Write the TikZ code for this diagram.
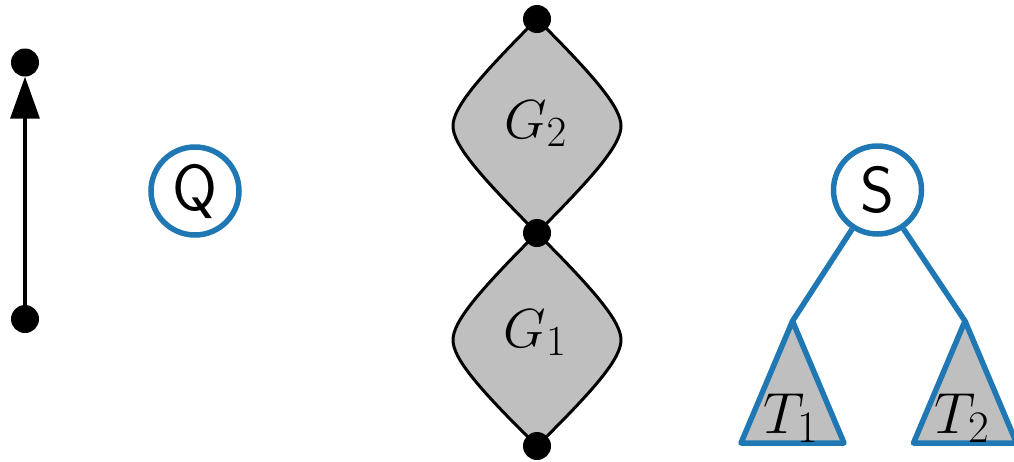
\RequirePackage{fix-cm}
\documentclass[tikz,border=0pt]{standalone}
\usetikzlibrary{arrows.meta}
\DeclareMathSizes{55}{55}{43}{31}
\DeclareMathSizes{58}{58}{45}{32}
\definecolor{tabblue}{RGB}{31,119,180}
\definecolor{leafgray}{RGB}{191,191,191}
\begin{document}
\begin{tikzpicture}[x=1pt,y=-1pt,
  dot/.style={circle,fill=black,inner sep=0pt,minimum size=28pt},
  bluecirc/.style={circle,draw=tabblue,line width=5.5pt,inner sep=0pt,minimum size=88pt,font=\fontsize{65}{70}\selectfont\sffamily},
  treeedge/.style={draw=tabblue,line width=5.5pt},
  leaf/.style={draw=black,fill=leafgray,line width=3pt,line join=round},
  tri/.style={draw=tabblue,fill=leafgray,line width=5.5pt,line join=round},
  glabel/.style={anchor=base,inner sep=0pt,font=\fontsize{55}{60}\selectfont},
  tlabel/.style={anchor=base,inner sep=0pt,font=\fontsize{58}{60}\selectfont},
  arr/.style={line width=3.5pt,-{Triangle[length=42pt,width=29pt]}}]
\useasboundingbox (0,0) rectangle (1014,461);

% left arrow
\node[dot] (a0) at (25,319) {};
\node[dot] (a1) at (25,62.5) {};
\draw[arr] (a0.center) -- (a1);

% Q
\node[bluecirc] (Q) at (195,191) {Q};

% stacked leaves
\path[leaf] (537,19) .. controls (477,79) and (453,108) .. (453,126)
  .. controls (453,144) and (477,173) .. (537,233)
  .. controls (597,173) and (621,144) .. (621,126)
  .. controls (621,108) and (597,79) .. (537,19) -- cycle;
\path[leaf] (537,233) .. controls (477,293) and (453,322) .. (453,340)
  .. controls (453,358) and (477,387) .. (537,446)
  .. controls (597,387) and (621,358) .. (621,340)
  .. controls (621,322) and (597,293) .. (537,233) -- cycle;
\node[dot] (m0) at (537,19) {};
\node[dot] (m1) at (537,233) {};
\node[dot] (m2) at (537,446) {};
\node[glabel] (g2) at (535.5,138) {$G_2$};
\node[glabel] (g1) at (535,347) {$G_1$};

% tree
\node[bluecirc] (S) at (877.5,190) {S};
\coordinate (t1) at (792.5,321);
\coordinate (t2) at (965,321);
\draw[treeedge] (S) -- (t1);
\draw[treeedge] (S) -- (t2);
\path[tri] (t1) -- ++(-51.5,122) -- ++(103,0) -- cycle;
\path[tri] (t2) -- ++(-51.5,122) -- ++(103,0) -- cycle;
\node[tlabel] (l1) at (791,433) {$T_1$};
\node[tlabel] (l2) at (962,433) {$T_2$};
\end{tikzpicture}
\end{document}
